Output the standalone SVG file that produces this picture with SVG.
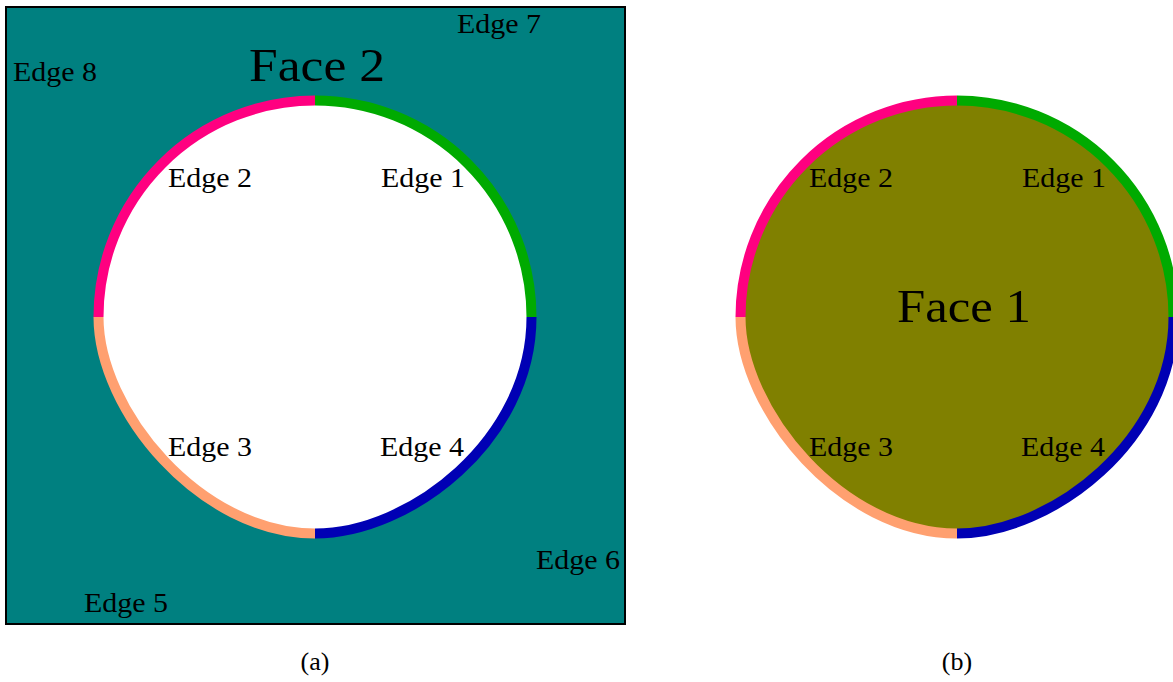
<svg xmlns="http://www.w3.org/2000/svg" width="1173" height="682" viewBox="0 0 1173 682">
<style>
.lbl{font-family:"Liberation Serif","Times New Roman",serif;font-size:27px;fill:#000}
.face{font-family:"Liberation Serif","Times New Roman",serif;font-size:47px;fill:#000}
.cap{font-family:"Liberation Serif","Times New Roman",serif;font-size:26px;fill:#000;text-anchor:middle}
.e{fill:none;stroke-width:10}
.e1{stroke:#00AA00}.e2{stroke:#FF0080}.e3{stroke:#FFA070}.e4{stroke:#0000B4}
</style>
<defs>
<path id="shape" d="M315 100.5 A216.5 216.5 0 0 1 531.5 317 C531.5 440 410 533.5 315 533.5 C200 533.5 98.5 410 98.5 317 A216.5 216.5 0 0 1 315 100.5 Z"/>
</defs>
<g id="face2">
<rect x="6" y="7" width="619" height="617" fill="#008080" stroke="#000" stroke-width="2"/>
<use href="#shape" fill="#FFFFFF"/>
<text class="face" x="249" y="81" textLength="136" lengthAdjust="spacingAndGlyphs">Face 2</text>
</g>
<g id="face1">
<use href="#shape" transform="translate(642 0)" fill="#808000"/>
<text class="face" x="897" y="322" textLength="134" lengthAdjust="spacingAndGlyphs">Face 1</text>
</g>
<g id="connectors">
<g id="edges-a">
<path class="e e1" d="M315 100.5 A216.5 216.5 0 0 1 531.5 317"/>
<path class="e e2" d="M315 100.5 A216.5 216.5 0 0 0 98.5 317"/>
<path class="e e3" d="M98.5 317 C98.5 410 200 533.5 315 533.5"/>
<path class="e e4" d="M531.5 317 C531.5 440 410 533.5 315 533.5"/>
</g>
<g id="edges-b" transform="translate(642 0)">
<path class="e e1" d="M315 100.5 A216.5 216.5 0 0 1 531.5 317"/>
<path class="e e2" d="M315 100.5 A216.5 216.5 0 0 0 98.5 317"/>
<path class="e e3" d="M98.5 317 C98.5 410 200 533.5 315 533.5"/>
<path class="e e4" d="M531.5 317 C531.5 440 410 533.5 315 533.5"/>
</g>
</g>
<g id="labels-a">
<text class="lbl" x="457" y="33" textLength="84" lengthAdjust="spacingAndGlyphs">Edge 7</text>
<text class="lbl" x="13" y="81" textLength="84" lengthAdjust="spacingAndGlyphs">Edge 8</text>
<text class="lbl" x="168" y="187" textLength="84" lengthAdjust="spacingAndGlyphs">Edge 2</text>
<text class="lbl" x="381" y="187" textLength="84" lengthAdjust="spacingAndGlyphs">Edge 1</text>
<text class="lbl" x="168" y="456" textLength="84" lengthAdjust="spacingAndGlyphs">Edge 3</text>
<text class="lbl" x="380" y="456" textLength="84" lengthAdjust="spacingAndGlyphs">Edge 4</text>
<text class="lbl" x="536" y="569" textLength="84" lengthAdjust="spacingAndGlyphs">Edge 6</text>
<text class="lbl" x="84" y="612" textLength="84" lengthAdjust="spacingAndGlyphs">Edge 5</text>
<text class="cap" x="315" y="670">(a)</text>
</g>
<g id="labels-b">
<text class="lbl" x="809" y="187" textLength="84" lengthAdjust="spacingAndGlyphs">Edge 2</text>
<text class="lbl" x="1022" y="187" textLength="84" lengthAdjust="spacingAndGlyphs">Edge 1</text>
<text class="lbl" x="809" y="456" textLength="84" lengthAdjust="spacingAndGlyphs">Edge 3</text>
<text class="lbl" x="1021" y="456" textLength="84" lengthAdjust="spacingAndGlyphs">Edge 4</text>
<text class="cap" x="957" y="670">(b)</text>
</g>
</svg>
